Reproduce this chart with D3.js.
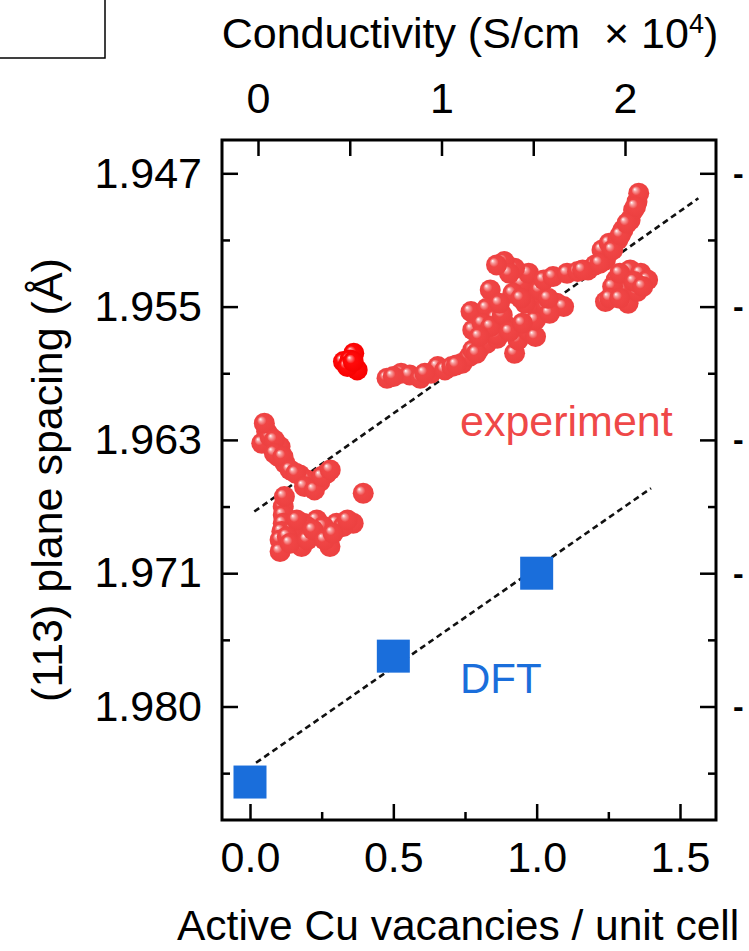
<!DOCTYPE html>
<html>
<head>
<meta charset="utf-8">
<script src="https://cdn.jsdelivr.net/npm/d3@7"></script>
<style>
body { margin: 0; background: #fff; }
svg { display: block; font-family: Arial, "Liberation Sans", Helvetica, sans-serif; }
</style>
</head>
<body>
<svg width="749" height="951"></svg>
<script>
// tick values
var yTicks = [1.947, 1.955, 1.963, 1.971, 1.980];
var yMinor = [1.951, 1.959, 1.967, 1.9755, 1.9845];
var xTicks = [0, 0.5, 1.0, 1.5];
var xMinor = [0.25, 0.75, 1.25];
var topTicks = [0, 0.5, 1, 1.5, 2];
var topLabels = [0, 1, 2];

// experiment: [vacancies, d spacing]
var experiment = [
    // low-x, upper group
    [0.058,1.9625],[0.041,1.9632],[0.070,1.9628],[0.105,1.9634],[0.122,1.9644],[0.099,1.9640],
    [0.174,1.9651],[0.209,1.9657],[0.268,1.9650],[0.244,1.9655],[0.198,1.9654],[0.050,1.9620],
    [0.085,1.9630],[0.085,1.9638],[0.115,1.9640],[0.140,1.9648],[0.160,1.9650],[0.190,1.9658],
    [0.225,1.9660],[0.250,1.9652],[0.280,1.9648],
    [0.395,1.9662],
    // low-x, lower group
    [0.116,1.9670],[0.116,1.9675],[0.116,1.9680],[0.111,1.9685],[0.105,1.9690],[0.105,1.9697],
    [0.180,1.9694],[0.279,1.9694],[0.186,1.9680],[0.233,1.9678],[0.302,1.9680],[0.360,1.9680],
    [0.198,1.9682],[0.256,1.9682],[0.151,1.9684],[0.325,1.9682],[0.163,1.9678],[0.130,1.9688],
    [0.140,1.9692],[0.200,1.9690],[0.220,1.9684],[0.260,1.9690],[0.290,1.9686],[0.340,1.9678],
    [0.120,1.9664],
    // chain
    [0.478,1.9593],[0.527,1.9590],[0.557,1.9591],[0.594,1.9593],[0.631,1.9590],[0.655,1.9586],
    [0.680,1.9588],[0.704,1.9586],[0.740,1.9584],[0.765,1.9580],[0.801,1.9575],[0.777,1.9576],
    [0.826,1.9572],[0.862,1.9569],[0.850,1.9566],[0.500,1.9592],[0.610,1.9590],[0.720,1.9585],
    [0.790,1.9578],
    // middle cluster
    [0.771,1.9553],[0.777,1.9564],[0.838,1.9540],[0.826,1.9551],[0.857,1.9557],[0.862,1.9567],
    [0.899,1.9562],[0.923,1.9578],[0.935,1.9570],[0.972,1.9565],[0.996,1.9568],[0.996,1.9558],
    [0.990,1.9548],[0.996,1.9536],[1.002,1.9543],[0.948,1.9536],[0.917,1.9542],[0.972,1.9530],
    [0.923,1.9527],[0.887,1.9523],[1.033,1.9550],[1.070,1.9548],[1.094,1.9550],[1.045,1.9554],
    [0.810,1.9560],[0.840,1.9562],[0.880,1.9555],[0.905,1.9565],[0.950,1.9560],[0.960,1.9548],
    [1.010,1.9540],[1.040,1.9545],[0.870,1.9548],[0.800,1.9568],[0.945,1.9545],[0.905,1.9530],
    [0.860,1.9525],
    // upper-right chain
    [1.025,1.9534],[1.057,1.9532],[1.106,1.9530],[1.143,1.9529],[1.179,1.9528],[1.204,1.9525],
    [1.240,1.9522],[1.228,1.9516],[1.253,1.9512],[1.283,1.9510],[1.301,1.9504],[1.326,1.9498],
    [1.338,1.9492],[1.350,1.9487],[1.356,1.9482],[1.160,1.9528],[1.220,1.9524],[1.265,1.9516],
    [1.292,1.9507],[1.315,1.9500],[1.345,1.9490],
    // right cluster
    [1.277,1.9534],[1.326,1.9528],[1.363,1.9530],[1.387,1.9534],[1.240,1.9547],[1.319,1.9548],
    [1.301,1.9540],[1.350,1.9541],[1.265,1.9538],[1.290,1.9530],[1.340,1.9535],[1.370,1.9538],
    [1.255,1.9545],[1.290,1.9545]
];
var experimentRed = [[0.326,1.9583],[0.362,1.9578],[0.374,1.9588],[0.349,1.9582],[0.340,1.9586],[0.360,1.9583]];

var dftX = [0, 0.5, 1.0];
var dftY = [1.9851, 1.9766, 1.9710];

// dashed guide lines, [x, d] end points
var expFit = [[0.015, 1.9673], [1.564, 1.9485]];
var dftFit = [[0.021, 1.9838], [1.399, 1.9659]];

var frame = { left: 222, right: 716, top: 140, bottom: 820 };
var fontSize = 43;

var svg = d3.select('svg');

var x = d3.scaleLinear().domain([0, 1.5]).range([250, 680]);
var xTop = d3.scaleLinear().domain([0, 2]).range([258, 625]);

// labelled d values are evenly spaced on the axis
var yStep = 133.3;
var y = d3.scaleLinear()
    .domain(yTicks)
    .range(yTicks.map(function(d, i) { return frame.top + 33.3 + i * yStep; }));

var defs = svg.append('defs');
function sphere(id, light, base, edge) {
    var g = defs.append('radialGradient')
        .attr('id', id)
        .attr('cx', 0.5).attr('cy', 0.5).attr('r', 0.55)
        .attr('fx', 0.3).attr('fy', 0.3);
    g.append('stop').attr('offset', '0%').attr('stop-color', '#ffffff');
    g.append('stop').attr('offset', '16%').attr('stop-color', light);
    g.append('stop').attr('offset', '40%').attr('stop-color', base);
    g.append('stop').attr('offset', '100%').attr('stop-color', edge);
}
sphere('ball', '#f7a0a0', '#f04545', '#ec4040');
sphere('ballRed', '#ff8080', '#ff0a0a', '#f60000');

var clip = defs.append('clipPath').attr('id', 'plotClip');
clip.append('rect')
    .attr('x', frame.left).attr('y', frame.top)
    .attr('width', frame.right - frame.left)
    .attr('height', frame.bottom - frame.top);

// top-left box corner
svg.append('rect')
    .attr('x', -10).attr('y', -10)
    .attr('width', 115).attr('height', 68)
    .attr('fill', 'none')
    .attr('stroke', '#000')
    .attr('stroke-width', 1.5);

function styleAxis(g) {
    g.select('.domain').remove();
    g.selectAll('.tick line').attr('stroke', '#000').attr('stroke-width', 2.5);
    g.selectAll('.tick text')
        .attr('fill', '#000')
        .style('font-size', fontSize + 'px')
        .style('font-family', 'Arial, "Liberation Sans", sans-serif');
}

// left
svg.append('g')
    .attr('transform', 'translate(' + frame.left + ',0)')
    .call(d3.axisLeft(y).tickValues(yTicks).tickSize(-16).tickPadding(20).tickFormat(d3.format('.3f')))
    .call(styleAxis);
svg.append('g')
    .attr('transform', 'translate(' + frame.left + ',0)')
    .call(d3.axisLeft(y).tickValues(yMinor).tickSize(-8).tickFormat(''))
    .call(styleAxis);

// right
svg.append('g')
    .attr('transform', 'translate(' + frame.right + ',0)')
    .call(d3.axisRight(y).tickValues(yTicks).tickSize(-16).tickFormat(''))
    .call(styleAxis);
svg.append('g')
    .attr('transform', 'translate(' + frame.right + ',0)')
    .call(d3.axisRight(y).tickValues(yMinor).tickSize(-8).tickFormat(''))
    .call(styleAxis);

// bottom
svg.append('g')
    .attr('transform', 'translate(0,' + frame.bottom + ')')
    .call(d3.axisBottom(x).tickValues(xTicks).tickSize(-16).tickPadding(21).tickFormat(d3.format('.1f')))
    .call(styleAxis);
svg.append('g')
    .attr('transform', 'translate(0,' + frame.bottom + ')')
    .call(d3.axisBottom(x).tickValues(xMinor).tickSize(-8).tickFormat(''))
    .call(styleAxis);

// top (conductivity)
svg.append('g')
    .attr('transform', 'translate(0,' + frame.top + ')')
    .call(d3.axisTop(xTop).tickValues(topTicks).tickSize(-16).tickPadding(27)
        .tickFormat(function(d) { return topLabels.indexOf(d) >= 0 ? d : ''; }))
    .call(styleAxis);

// frame
svg.append('rect')
    .attr('x', frame.left).attr('y', frame.top)
    .attr('width', frame.right - frame.left)
    .attr('height', frame.bottom - frame.top)
    .attr('fill', 'none')
    .attr('stroke', '#000')
    .attr('stroke-width', 3);

var plot = svg.append('g').attr('clip-path', 'url(#plotClip)');

var line = d3.line()
    .x(function(d) { return x(d[0]); })
    .y(function(d) { return y(d[1]); });

plot.selectAll('path.fit')
    .data([expFit, dftFit])
    .enter().append('path')
    .attr('class', 'fit')
    .attr('d', line)
    .attr('fill', 'none')
    .attr('stroke', '#111')
    .attr('stroke-width', 2.6)
    .attr('stroke-dasharray', '6,4');

var radius = 10.5;
plot.selectAll('circle.exp')
    .data(experiment)
    .enter().append('circle')
    .attr('class', 'exp')
    .attr('cx', function(d) { return x(d[0]); })
    .attr('cy', function(d) { return y(d[1]); })
    .attr('r', radius)
    .attr('fill', 'url(#ball)');

plot.selectAll('circle.expRed')
    .data(experimentRed)
    .enter().append('circle')
    .attr('class', 'expRed')
    .attr('cx', function(d) { return x(d[0]); })
    .attr('cy', function(d) { return y(d[1]); })
    .attr('r', radius)
    .attr('fill', 'url(#ballRed)');

var sq = 33;
plot.selectAll('rect.dft')
    .data(dftX)
    .enter().append('rect')
    .attr('class', 'dft')
    .attr('x', function(d) { return x(d) - sq / 2; })
    .attr('y', function(d, i) { return y(dftY[i]) - sq / 2; })
    .attr('width', sq)
    .attr('height', sq)
    .attr('fill', '#1a6edb');

// series labels
svg.append('text')
    .attr('x', 460).attr('y', 436)
    .attr('fill', '#ef4848')
    .style('font-size', '43px')
    .text('experiment');

svg.append('text')
    .attr('x', 460).attr('y', 693)
    .attr('fill', '#1a6edb')
    .style('font-size', '42px')
    .text('DFT');

// axis titles
var title = svg.append('text')
    .attr('x', 470).attr('y', 48)
    .attr('text-anchor', 'middle')
    .style('font-size', '43px');
title.append('tspan').text('Conductivity (S/cm \u00a0\u00d7 10');
title.append('tspan').attr('dy', -15).style('font-size', '27px').text('4');
title.append('tspan').attr('dy', 15).text(')');

svg.append('text')
    .attr('x', 177).attr('y', 940)
    .style('font-size', '42.5px')
    .text('Active Cu vacancies / unit cell');

svg.append('text')
    .attr('transform', 'translate(62,' + ((frame.top + frame.bottom) / 2) + ') rotate(-90)')
    .attr('text-anchor', 'middle')
    .style('font-size', fontSize + 'px')
    .text('(113) plane spacing (\u00c5)');

// edge of the neighbouring panel's tick labels
svg.selectAll('text.next')
    .data(yTicks)
    .enter().append('text')
    .attr('class', 'next')
    .attr('x', 733)
    .attr('y', function(d) { return y(d); })
    .attr('dy', '0.33em')
    .style('font-size', '32px')
    .style('font-weight', 'bold')
    .text('-');
</script>
</body>
</html>
